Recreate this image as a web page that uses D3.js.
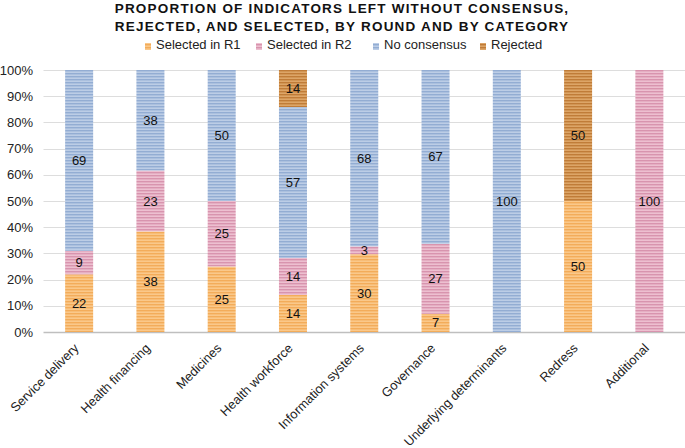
<!DOCTYPE html>
<html>
<head>
<meta charset="utf-8">
<script src="https://cdn.jsdelivr.net/npm/d3@7"></script>
<style>
  html, body { margin: 0; padding: 0; background: #fff; }
  svg { display: block; font-family: "Liberation Sans", Arial, sans-serif; }
</style>
</head>
<body>
<div id="chart"></div>
<script>
// ---- data ----
const categories = ['Service delivery', 'Health financing', 'Medicines', 'Health workforce',
  'Information systems', 'Governance', 'Underlying determinants', 'Redress', 'Additional'];
const selectedR1  = [22, 38, 25, 14, 30, 7, 0, 50, 0];
const selectedR2  = [9, 23, 25, 14, 3, 27, 0, 0, 100];
const noConsensus = [69, 38, 50, 57, 68, 67, 100, 0, 0];
const rejected    = [0, 0, 0, 14, 0, 0, 0, 50, 0];
const seriesNames = ['Selected in R1', 'Selected in R2', 'No consensus', 'Rejected'];
const yTicks = [0, 0.1, 0.2, 0.3, 0.4, 0.5, 0.6, 0.7, 0.8, 0.9, 1];

// ---- colours (base, stripe) ----
const palette = {
  'Selected in R1': ['#FAC88A', '#F3AC5A'],
  'Selected in R2': ['#EDBFD0', '#D894AE'],
  'No consensus':   ['#BCCDE6', '#93ADD3'],
  'Rejected':       ['#DDA567', '#C07C38']
};

const W = 685, H = 448;
const margin = { top: 70, right: 0, bottom: 116, left: 43.5 };

const rows = categories.map((c, i) => ({
  cat: c,
  'Selected in R1': selectedR1[i],
  'Selected in R2': selectedR2[i],
  'No consensus': noConsensus[i],
  'Rejected': rejected[i]
}));

// 100% stacked, like the original (rows do not always sum to exactly 100)
const stack = d3.stack().keys(seriesNames).offset(d3.stackOffsetExpand);
const layers = stack(rows);

const x = d3.scaleBand().domain(categories).range([margin.left, W - margin.right]).paddingInner(0.607).paddingOuter(0.3035);
const y = d3.scaleLinear().domain([0, 1]).range([H - margin.bottom, margin.top]);

const svg = d3.select('#chart').append('svg').attr('width', W).attr('height', H);

// stripe patterns
const defs = svg.append('defs');
seriesNames.forEach((s, i) => {
  const [base, stripe] = palette[s];
  const p = defs.append('pattern').attr('id', 'pat' + i)
    .attr('width', 6).attr('height', 3).attr('patternUnits', 'userSpaceOnUse');
  p.append('rect').attr('width', 6).attr('height', 3).attr('fill', base);
  p.append('rect').attr('y', 1).attr('width', 6).attr('height', 1.4).attr('fill', stripe);
});

// title
const title = svg.append('text').attr('text-anchor', 'middle')
  .attr('font-size', 13.5).attr('font-weight', 'bold').attr('letter-spacing', 1.2).attr('fill', '#111');
title.append('tspan').attr('x', 342).attr('y', 12.5).text('PROPORTION OF INDICATORS LEFT WITHOUT CONSENSUS,');
title.append('tspan').attr('x', 342).attr('y', 30.5).text('REJECTED, AND SELECTED, BY ROUND AND BY CATEGORY');

// legend
const legendX = [145, 256, 373, 480];
const lg = svg.append('g').attr('font-size', 13).attr('fill', '#222');
seriesNames.forEach((s, i) => {
  const g = lg.append('g').attr('transform', `translate(${legendX[i]},43)`);
  g.append('rect').attr('x', 0).attr('y', 0).attr('width', 6).attr('height', 7).attr('fill', `url(#pat${i})`);
  g.append('text').attr('x', 11).attr('y', 5.5).text(s);
});

// grid + y axis
const grid = svg.append('g');
grid.selectAll('line').data(yTicks).join('line')
  .attr('x1', margin.left).attr('x2', W - margin.right)
  .attr('y1', d => Math.round(y(d)) + 0.5).attr('y2', d => Math.round(y(d)) + 0.5)
  .attr('stroke', d => d === 0 ? '#BFBFBF' : '#DDDDDD').attr('stroke-width', d => d === 0 ? 1.5 : 1);

svg.append('g').attr('font-size', 13).attr('fill', '#222')
  .selectAll('text').data(yTicks).join('text')
  .attr('x', 33).attr('y', d => y(d) + 4.5).attr('text-anchor', 'end')
  .text(d => d3.format('.0%')(d));

// bars
const bars = svg.append('g');
layers.forEach((layer, i) => {
  bars.append('g').selectAll('rect').data(layer).join('rect')
    .attr('x', d => x(d.data.cat))
    .attr('width', x.bandwidth())
    .attr('y', d => y(d[1]))
    .attr('height', d => y(d[0]) - y(d[1]))
    .attr('fill', `url(#pat${i})`);
});

// value labels
const lab = svg.append('g').attr('font-size', 13).attr('fill', '#111').attr('text-anchor', 'middle');
layers.forEach(layer => {
  lab.append('g').selectAll('text').data(layer.filter(d => d.data[layer.key] > 0)).join('text')
    .attr('x', d => x(d.data.cat) + x.bandwidth() / 2)
    .attr('y', d => y((d[0] + d[1]) / 2) + 4.5)
    .text(d => d.data[layer.key]);
});

// x labels
svg.append('g').attr('font-size', 12.8).attr('fill', '#222')
  .selectAll('text').data(categories).join('text')
  .attr('text-anchor', 'end')
  .attr('transform', d => `translate(${x(d) + x.bandwidth() / 2 + 0.5},${H - margin.bottom + 17}) rotate(-45)`)
  .text(d => d);
</script>
</body>
</html>
